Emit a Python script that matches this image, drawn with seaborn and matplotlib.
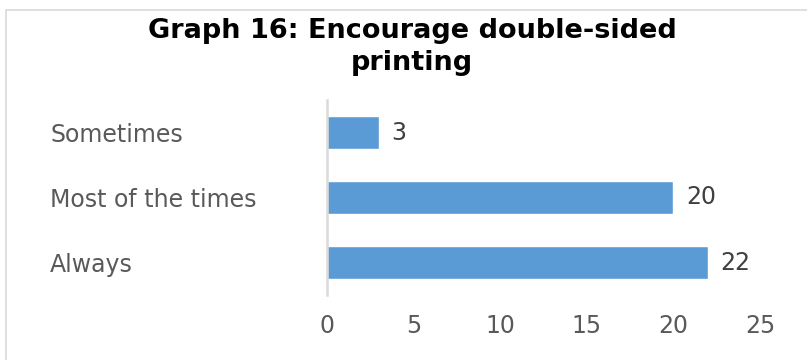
import matplotlib
matplotlib.use("Agg")
import matplotlib.pyplot as plt
from matplotlib.patches import Rectangle
import seaborn as sns
import pandas as pd

categories = ["Sometimes", "Most of the times", "Always"]
counts = [3, 20, 22]
x_ticks = [0, 5, 10, 15, 20, 25]

sns.set_theme(style="white")
plt.rcParams["font.family"] = ["DejaVu Sans"]

W, H = 807, 360
fig = plt.figure(figsize=(W / 100, H / 100), dpi=100)

# chart frame
fig.patches.append(Rectangle((6 / W, -0.1), 1.2, 1.1 - 10 / H, transform=fig.transFigure,
                             fill=False, edgecolor="#d9d9d9", linewidth=1.2))

ax = fig.add_axes([327 / W, 1 - 295 / H, 433 / W, 195 / H])
df = pd.DataFrame({"label": categories, "count": counts})
sns.barplot(data=df, x="count", y="label", orient="h", color="#5b9bd5",
            saturation=1, width=0.5, ax=ax)

ax.set_xlim(0, 25)
ax.set_ylim(2.5, -0.5)
ax.set_xticks(x_ticks)
ax.set_xticklabels([str(t) for t in x_ticks])
ax.set_xlabel("")
ax.set_ylabel("")
ax.tick_params(axis="both", length=0, labelsize=17, colors="#595959")
ax.tick_params(axis="x", pad=14)
ax.tick_params(axis="y", pad=(327 - 50) * 0.72)
for lbl in ax.get_yticklabels():
    lbl.set_horizontalalignment("left")
for s in ["top", "right", "bottom"]:
    ax.spines[s].set_visible(False)
ax.spines["left"].set_color("#d9d9d9")
ax.spines["left"].set_linewidth(1.8)
ax.grid(False)

ax.bar_label(ax.containers[0], labels=[str(v) for v in counts], padding=9,
             fontsize=17, color="#404040")

fig.text(412 / W, 1 - 47 / H, "Graph 16: Encourage double-sided\nprinting",
         ha="center", va="center", fontsize=19.5, fontweight="bold",
         color="#000000", linespacing=1.35)

fig.savefig("out.png", dpi=100)
